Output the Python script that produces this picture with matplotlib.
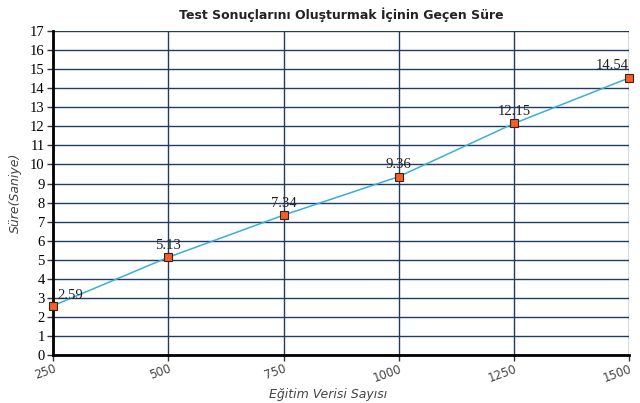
import matplotlib
matplotlib.use('Agg')
import matplotlib.pyplot as plt

egitim = [250, 500, 750, 1000, 1250, 1500]
sure = [2.59, 5.13, 7.34, 9.36, 12.15, 14.54]
etiketler = ['2.59', '5.13', '7.34', '9.36', '12.15', '14.54']

fig = plt.figure(figsize=(6.4, 4.03), dpi=100)
ax = fig.add_axes([0.083, 0.119, 0.900, 0.804])

ax.plot(egitim, sure, color='#3aaed8', lw=1.1, zorder=3)
ax.plot(egitim, sure, ls='none', marker='s', ms=5.5, mfc='#f0602a',
        mec='#402010', mew=0.8, zorder=4, clip_on=False)
for x, y, t in zip(egitim, sure, etiketler):
    ax.annotate(t, (x, y), xytext=(0, 4), textcoords='offset points',
                ha='center' if x < 1500 else 'right', va='bottom',
                family='Liberation Serif', fontsize=10.5, color='#202020')
# first label sits to the right
ax.texts[0].set_ha('left')
ax.texts[0].set_position((3, 3))

ax.set_xlim(250, 1500)
ax.set_ylim(0, 17)
ax.set_xticks(egitim)
ax.set_yticks(range(0, 18))
ax.grid(True, color='#1f3b66', lw=1.0)
ax.set_axisbelow(True)

for s in ['top', 'right']:
    ax.spines[s].set_visible(False)
ax.spines['left'].set_linewidth(2)
ax.spines['bottom'].set_linewidth(2)
ax.tick_params(axis='both', length=4, width=1, color='#333333')
ax.tick_params(axis='y', labelsize=10.5, pad=2)
ax.tick_params(axis='x', pad=1)
for lab in ax.get_yticklabels():
    lab.set_family('Liberation Serif')
for lab in ax.get_xticklabels():
    lab.set_rotation(20)
    lab.set_ha('right')
    lab.set_rotation_mode('anchor')
    lab.set_fontsize(8.5)
    lab.set_color('#444444')

ax.set_title('Test Sonuçlarını Oluşturmak İçinin Geçen Süre',
             fontsize=9, fontweight='bold', color='#222222', pad=9)
ax.set_xlabel('Eğitim Verisi Sayısı', fontsize=9, style='italic', color='#444444', va='center')
ax.xaxis.set_label_coords(0.477, -0.123)
ax.set_ylabel('Süre(Saniye)', fontsize=9, style='italic', color='#444444', labelpad=6)

fig.savefig('out.png', dpi=100)
